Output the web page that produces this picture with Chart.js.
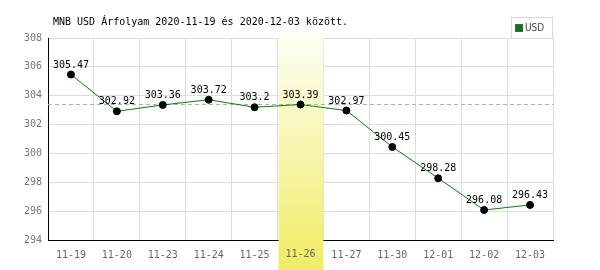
<!DOCTYPE html>
<html><head><meta charset="utf-8">
<script src="https://cdn.jsdelivr.net/npm/chart.js@4.4.0/dist/chart.umd.min.js"></script>
<style>html,body{margin:0;padding:0;background:#fff}#wrap{width:600px;height:270px}</style>
</head><body><div id="wrap"><canvas id="c" width="600" height="270"></canvas></div>
<script>
const titleText = "MNB USD Árfolyam 2020-11-19 és 2020-12-03 között.";
const seriesName = "USD";
const categories = ["11-19","11-20","11-23","11-24","11-25","11-26","11-27","11-30","12-01","12-02","12-03"];
const usdValues = [305.47,302.92,303.36,303.72,303.2,303.39,302.97,300.45,298.28,296.08,296.43];
const yTicks = [294,296,298,300,302,304,306,308];
const referenceLevel = 303.45;
const highlightCategory = "11-26";

const MONO = "'DejaVu Sans Mono', monospace";

const overlay = {
  id: 'overlay',
  beforeDatasetsDraw(chart) {
    const ctx = chart.ctx, x = chart.scales.x, y = chart.scales.y, a = chart.chartArea;
    const i = categories.indexOf(highlightCategory);
    const half = (x.getPixelForValue(1) - x.getPixelForValue(0)) / 2;
    const cx = x.getPixelForValue(i);
    const g = ctx.createLinearGradient(0, 20, 0, 270);
    g.addColorStop(0, 'rgba(255,255,255,1)');
    g.addColorStop(1, 'rgba(240,236,100,1)');
    ctx.save();
    ctx.fillStyle = g;
    ctx.fillRect(cx - half + 1, 20, 2 * half - 1, 250);
    // redraw x tick label for highlight (drawn under band otherwise)
    ctx.font = "10px " + MONO;
    ctx.fillStyle = '#666';
    ctx.textAlign = 'center'; ctx.textBaseline = 'middle';
    ctx.fillText(highlightCategory, cx, a.bottom + 14);
    // reference dashed line
    const ry = Math.round(y.getPixelForValue(referenceLevel)) + 0.5;
    ctx.strokeStyle = '#b0b0b0'; ctx.lineWidth = 1; ctx.setLineDash([4, 3]);
    ctx.beginPath(); ctx.moveTo(a.left, ry); ctx.lineTo(a.right, ry); ctx.stroke();
    ctx.restore();
  },
  afterDatasetsDraw(chart) {
    const ctx = chart.ctx, meta = chart.getDatasetMeta(0);
    ctx.save();
    ctx.font = "10px " + MONO; ctx.fillStyle = '#000';
    ctx.textAlign = 'center'; ctx.textBaseline = 'alphabetic';
    meta.data.forEach((p, i) => {
      ctx.fillText(String(usdValues[i]), p.x, p.y - 7);
    });
    ctx.restore();
  },
  afterDraw(chart) {
    const ctx = chart.ctx;
    ctx.save();
    ctx.font = "10px " + MONO; ctx.fillStyle = '#000';
    ctx.textAlign = 'left'; ctx.textBaseline = 'middle';
    ctx.fillText(titleText, 53, 22);
    // legend
    ctx.strokeStyle = '#d8d8d8'; ctx.lineWidth = 1;
    ctx.strokeRect(511.5, 17.5, 41, 21);
    ctx.fillStyle = '#008000'; ctx.fillRect(516, 25, 6, 6);
    ctx.strokeStyle = '#555'; ctx.strokeRect(515.5, 24.5, 7, 7);
    ctx.fillStyle = '#444';
    ctx.font = "10px 'DejaVu Sans Condensed', sans-serif";
    ctx.fillText(seriesName, 525, 28.5);
    ctx.restore();
  }
};

new Chart(document.getElementById('c'), {
  type: 'line',
  data: {
    labels: categories,
    datasets: [{
      label: seriesName,
      data: usdValues,
      borderColor: '#008000',
      borderWidth: 1,
      pointBackgroundColor: '#000',
      pointBorderColor: '#000',
      pointRadius: 3.5,
      tension: 0
    }]
  },
  options: {
    responsive: false,
    animation: false,
    layout: { padding: { top: 38, right: 47, left: 0, bottom: 0 } },
    plugins: { legend: { display: false }, title: { display: false }, tooltip: { enabled: false } },
    scales: {
      x: {
        offset: true,
        grid: { color: '#dddddd', drawTicks: false, offset: true },
        border: { color: '#000', width: 1 },
        ticks: { color: '#666', font: { family: MONO, size: 10 }, padding: 9, maxRotation: 0, autoSkip: false },
        afterFit(s) { s.height = 30; }
      },
      y: {
        min: 294, max: 308,
        afterBuildTicks(s) { s.ticks = yTicks.map(v => ({ value: v })); },
        grid: { color: '#dddddd', drawTicks: false },
        border: { color: '#000', width: 1 },
        ticks: { color: '#777', font: { family: MONO, size: 10 }, padding: 6 },
        afterFit(s) { s.width = 48; }
      }
    }
  },
  plugins: [overlay]
});
</script>
</body></html>
